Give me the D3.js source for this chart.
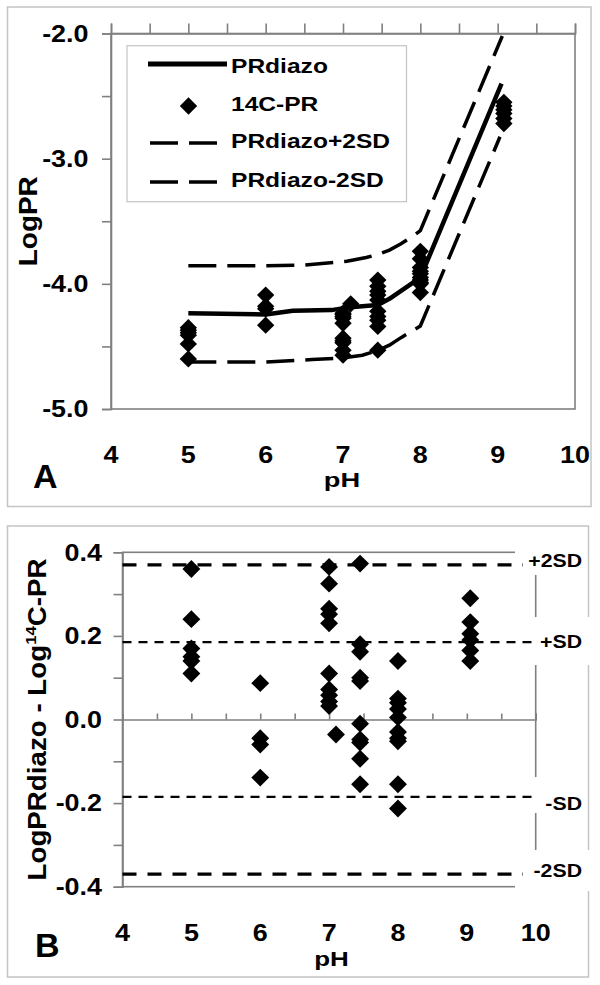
<!DOCTYPE html>
<html><head><meta charset="utf-8">
<script src="https://cdn.jsdelivr.net/npm/d3@7"></script>
<style>
body{margin:0;background:#fff}
svg{display:block}
text{font-family:"Liberation Sans",Arial,sans-serif;font-weight:bold;fill:#000}
</style>
</head><body><svg id="c" width="600" height="985"></svg>
<script>
// ---------- data ----------
const phTickLabels = [4,5,6,7,8,9,10];
const logPRTickLabels = [-2,-3,-4,-5];
const diffTickLabels = [0.4,0.2,0.0,-0.2,-0.4];

// Panel A : PRdiazo line and +/-2SD lines
const prdiazoPH  = [5,6,6.35,6.85,7.05,7.45,7.6,8,9.05];
const prdiazoLog = [-4.236,-4.245,-4.215,-4.21,-4.19,-4.17,-4.12,-3.95,-2.40];
const plus2PH  = [5,6,6.5,7.05,7.3,7.45,7.6,7.75,7.9,8,9.06];
const plus2Log = [-3.855,-3.855,-3.85,-3.82,-3.79,-3.765,-3.73,-3.68,-3.62,-3.575,-2.02];
const minus2PH  = [5,6,6.6,7.0,7.25,7.45,7.6,7.75,8,9.03];
const minus2Log = [-4.624,-4.624,-4.605,-4.592,-4.57,-4.533,-4.49,-4.43,-4.337,-2.825];

// Panel A : 14C-PR measurements
const c14PH = [5,5,5,5,5,5, 6,6,6,6,
  7,7,7,7,7,7,7,7,7,7, 7.1,
  7.45,7.45,7.45,7.45,7.45,7.45,7.45,7.45,7.45,7.45,
  8,8,8,8,8,8,8,8,8,8, 9.08,9.08,9.08,9.08,9.08,9.08];
const c14Log = [-4.35,-4.37,-4.39,-4.41,-4.48,-4.60, -4.09,-4.18,-4.20,-4.33,
  -4.235,-4.245,-4.26,-4.275,-4.315,-4.435,-4.455,-4.47,-4.53,-4.57, -4.16,
  -3.97,-4.02,-4.06,-4.09,-4.13,-4.22,-4.26,-4.29,-4.34,-4.53,
  -3.74,-3.80,-3.87,-3.90,-3.92,-3.95,-3.97,-3.99,-4.00,-4.07,
  -2.55,-2.58,-2.61,-2.64,-2.68,-2.72];

// Panel B : LogPRdiazo - Log14C-PR
const diffPH = [5,5,5,5,5,5, 6,6,6,6,
  7,7,7,7,7,7,7,7,7,7, 7.1,
  7.45,7.45,7.45,7.45,7.45,7.45,7.45,7.45,7.45,7.45,
  8,8,8,8,8,8,8,8,8,8, 9.05,9.05,9.05,9.05,9.05,9.05];
const diffVal = [0.36,0.24,0.17,0.15,0.14,0.11, 0.087,-0.045,-0.06,-0.139,
  0.365,0.325,0.265,0.252,0.23,0.11,0.072,0.058,0.043,0.032, -0.036,
  0.373,0.18,0.162,0.10,0.092,-0.01,-0.048,-0.055,-0.094,-0.155,
  0.14,0.05,0.04,0.025,0.005,-0.03,-0.045,-0.052,-0.155,-0.213,
  0.29,0.233,0.205,0.19,0.165,0.14];
const sdLevels = [0.37,0.185,-0.185,-0.37];
const sdLabels = ["+2SD","+SD","-SD","-2SD"];
const legendLabels = ["PRdiazo","14C-PR","PRdiazo+2SD","PRdiazo-2SD"];

// ---------- drawing ----------
const svg = d3.select("#c");
const GREY = "#808080", LIGHT = "#c4c4c4";
const SX = 1.17;

function T(s, x, y, size, anchor, sx){
  return svg.append("text").attr("font-size", size).attr("text-anchor", anchor || "start")
    .attr("transform", `translate(${x},${y}) scale(${sx||1},1)`).text(s);
}
const fmt1 = v => v.toFixed(1);

// ===== Panel A =====
svg.append("rect").attr("x",7.5).attr("y",7).attr("width",583.5).attr("height",499.5)
  .attr("fill","none").attr("stroke",LIGHT).attr("stroke-width",1.5);

const xA = d3.scaleLinear().domain([4,10]).range([111,575]);
const yA = d3.scaleLinear().domain([-5,-2]).range([409,33.5]);

svg.append("rect").attr("x",xA(4)).attr("y",yA(-2)).attr("width",xA(10)-xA(4)).attr("height",yA(-5)-yA(-2))
  .attr("fill","none").attr("stroke",GREY).attr("stroke-width",1.6);

const axTopA = svg.append("g").attr("transform",`translate(0,${yA(-2)})`)
  .call(d3.axisTop(xA).tickValues(d3.range(4,10.01,0.5)).tickSize(10).tickFormat(""));
const axLeftA = svg.append("g").attr("transform",`translate(${xA(4)},0)`)
  .call(d3.axisLeft(yA).tickValues(d3.range(-5,-1.99,0.5)).tickSize(9).tickFormat(""));
[axTopA, axLeftA].forEach(g=>{ g.selectAll("path,line").attr("stroke",GREY).attr("stroke-width",1.6); });

logPRTickLabels.forEach(v=>T(fmt1(v), 88.5, yA(v)+8.2, 23, "end", SX));
phTickLabels.forEach(v=>T(String(v), xA(v), 463, 23, "middle", SX));
T("pH", 342, 487, 21, "middle", 1.3);
T("A", 33, 488, 34, "start", 1);
svg.append("text").attr("font-size",25).attr("text-anchor","middle")
  .attr("textLength",90).attr("lengthAdjust","spacingAndGlyphs")
  .attr("transform",`translate(37,${(yA(-2)+yA(-5))/2}) rotate(-90)`).text("LogPR");

// legend
svg.append("rect").attr("x",127).attr("y",45.7).attr("width",279.5).attr("height",156)
  .attr("fill","#fff").attr("stroke",LIGHT).attr("stroke-width",1.2);

const lineGen = (xs)=>d3.line().x((d,i)=>xA(xs[i])).y(d=>yA(d));
svg.append("path").attr("d", lineGen(plus2PH)(plus2Log)).attr("fill","none")
  .attr("stroke","#000").attr("stroke-width",3.5).attr("stroke-dasharray","28,11");
svg.append("path").attr("d", lineGen(minus2PH)(minus2Log)).attr("fill","none")
  .attr("stroke","#000").attr("stroke-width",3.5).attr("stroke-dasharray","28,11");
svg.append("path").attr("d", lineGen(prdiazoPH)(prdiazoLog)).attr("fill","none")
  .attr("stroke","#000").attr("stroke-width",4.5).attr("stroke-linejoin","round");

const diamondA = d3.symbol().type(d3.symbolSquare).size(150);
svg.append("g").selectAll("path").data(c14Log).join("path")
  .attr("d", diamondA())
  .attr("transform",(d,i)=>`translate(${xA(c14PH[i])},${yA(d)}) rotate(45)`)
  .attr("fill","#000");

// legend entries
svg.append("line").attr("x1",148).attr("x2",227).attr("y1",64).attr("y2",64)
  .attr("stroke","#000").attr("stroke-width",5);
svg.append("path").attr("d",diamondA()).attr("transform","translate(188.5,106) rotate(45)").attr("fill","#000");
[143,182].forEach(y=>{
  svg.append("line").attr("x1",150).attr("x2",220).attr("y1",y).attr("y2",y)
    .attr("stroke","#000").attr("stroke-width",3.5).attr("stroke-dasharray","28,11");
});
[73,111,148,187].forEach((y,i)=>T(legendLabels[i], 231, y, 21, "start", SX));

// ===== Panel B =====
svg.append("rect").attr("x",7.5).attr("y",526).attr("width",581).attr("height",451)
  .attr("fill","none").attr("stroke",LIGHT).attr("stroke-width",1.5);

const xB = d3.scaleLinear().domain([4,10]).range([122.5,535.7]);
const yB = d3.scaleLinear().domain([-0.4,0.4]).range([886.7,552.3]);

svg.append("rect").attr("x",xB(4)).attr("y",yB(0.4)).attr("width",xB(10)-xB(4)).attr("height",yB(-0.4)-yB(0.4))
  .attr("fill","none").attr("stroke",GREY).attr("stroke-width",1.6);
const axLeftB = svg.append("g").attr("transform",`translate(${xB(4)},0)`)
  .call(d3.axisLeft(yB).tickValues(d3.range(-4,4.01,1).map(v=>v/10)).tickSize(9).tickFormat(""));
const axZeroB = svg.append("g").attr("transform",`translate(0,${yB(0)})`)
  .call(d3.axisTop(xB).tickValues(d3.range(4,10.01,0.5)).tickSize(6).tickFormat(""));
[axLeftB, axZeroB].forEach(g=>{ g.selectAll("path,line").attr("stroke",GREY).attr("stroke-width",1.6); });

// label backgrounds (cover borders like the original)
[[515,540,71,35],[530,617,62,48],[530,777,56,36],[515,850,77,41]].forEach(r=>{
  svg.append("rect").attr("x",r[0]).attr("y",r[1]).attr("width",r[2]).attr("height",r[3]).attr("fill","#fff");
});

// SD lines
sdLevels.forEach((v,i)=>{
  const big = Math.abs(v) > 0.3;
  svg.append("line").attr("x1",xB(4)).attr("x2", big ? 523 : 533)
    .attr("y1",yB(v)).attr("y2",yB(v)).attr("stroke","#000")
    .attr("stroke-width", big ? 3.3 : 2.3).attr("stroke-dasharray", big ? "14,11" : "9,7");
});
[567,648,810,877].forEach((y,i)=>T(sdLabels[i], 582, y, 19, "end", 1.12));

diffTickLabels.forEach(v=>T(fmt1(v), 102, yB(v)+8.3, 23, "end", SX));
phTickLabels.forEach(v=>T(String(v), xB(v), 941, 23, "middle", SX));
T("pH", 331.5, 966, 20, "middle", 1.3);
T("B", 35, 957, 34, "start", 1);

const ylabB = svg.append("text").attr("font-size",25).attr("text-anchor","middle")
  .attr("textLength",322).attr("lengthAdjust","spacingAndGlyphs")
  .attr("transform",`translate(46,${(yB(0.4)+yB(-0.4))/2}) rotate(-90)`);
ylabB.append("tspan").text("LogPRdiazo - Log");
ylabB.append("tspan").attr("font-size",15).attr("dy",-10).text("14");
ylabB.append("tspan").attr("dy",10).text("C-PR");

const diamondB = d3.symbol().type(d3.symbolSquare).size(160);
svg.append("g").selectAll("path").data(diffVal).join("path")
  .attr("d", diamondB())
  .attr("transform",(d,i)=>`translate(${xB(diffPH[i])},${yB(d)}) rotate(45)`)
  .attr("fill","#000");
</script></body></html>
